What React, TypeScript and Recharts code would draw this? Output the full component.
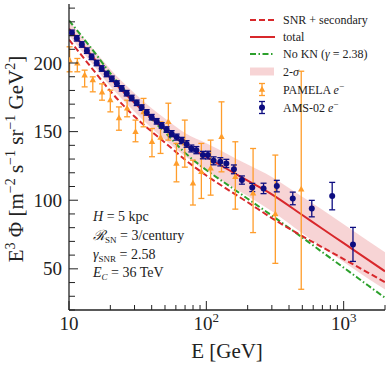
import {
  Area,
  ComposedChart,
  Customized,
  ErrorBar,
  Legend,
  Line,
  Scatter,
  XAxis,
  YAxis,
} from "recharts";

const AXIS = "#222222";
const RED = "#d8282b";
const GREEN = "#2ca02c";
const ORANGE = "#ff9d2b";
const NAVY = "#0d0d80";
const FONT = "'Liberation Serif', 'DejaVu Serif', serif";

// model curves (E in GeV, E^3 flux)
const E_GRID = [10, 15, 20, 30, 40, 50, 70, 100, 150, 200, 300, 500, 700, 1000, 1500, 2000];
const TOTAL = [225, 204, 189, 171, 159.6, 151.6, 140.5, 131.5, 121.3, 114.3, 104.3, 89.2, 79.2, 68.7, 56.7, 48.2];
const SNR_SEC = [217, 195, 179.5, 161, 150, 142, 129.5, 118, 106.5, 98.5, 87, 73.8, 65.7, 57.1, 47.3, 40.3];
const NO_KN = [231, 209, 192.5, 172, 159, 149.5, 134.5, 122, 109.8, 101.1, 88.8, 72.8, 62.1, 50.9, 38, 28.9];
const BAND_LO = [220, 198.5, 183, 164.5, 152.5, 144, 132, 121.5, 110.5, 103, 92, 76, 65.5, 55, 43, 35];
const BAND_HI = [230.5, 210, 195.5, 178, 167, 159.5, 149, 141.5, 132.5, 126, 117, 102.5, 93, 82.5, 70.5, 62];

// PAMELA e-
const PAMELA_E = [10.1, 11.5, 13.0, 14.9, 17.4, 20.0, 23.1, 26.5, 30.5, 34.9, 40.2, 46.4, 52.9, 60.6, 69.7, 79.9, 92.0, 107.5, 129, 162.6, 219, 318, 491];
const PAMELA_V = [202, 199.8, 191.1, 187.5, 178.7, 173, 159.8, 167, 149.8, 164.2, 142.6, 145.6, 157.1, 126.8, 141.4, 112.3, 120.7, 123.2, 146.2, 117.1, 105, 89.9, 107.9];
const PAMELA_LO = [193.6, 193.6, 182.6, 179, 172.9, 164.4, 151, 160.8, 142.6, 153.5, 131.7, 134.1, 143.8, 113.4, 124.1, 96.5, 101.3, 103.7, 120.7, 93.5, 76.4, 54, 35.1];
const PAMELA_HI = [211.8, 203.3, 194.8, 189.9, 184.8, 180.2, 168, 172.9, 158.4, 174.2, 152.3, 157.1, 170.7, 141.4, 158.4, 129.2, 141.4, 143.8, 171.7, 142.6, 137.7, 132.9, 194];

// AMS-02 e-
const AMS_E = [10.5, 11.4, 12.4, 13.5, 14.6, 15.9, 17.3, 18.8, 20.5, 22.3, 24.2, 26.3, 28.6, 31.1, 33.8, 36.8, 40, 43.5, 47.3, 51.4, 55.9, 60.8, 66.1, 71.8, 77.8, 84.6, 94.4, 102.7, 113, 126.4, 139.8, 158.8, 181.6, 216, 261, 326, 426, 586, 825, 1169];
const AMS_V = [222, 218, 213.5, 209, 204.5, 200, 196, 192, 188.5, 185, 181.5, 178, 174.5, 171, 167.5, 164, 160.5, 157.5, 154.5, 151.5, 148.5, 146, 143.5, 141, 137.7, 136.5, 132.9, 132.9, 128.7, 128, 126.8, 122.5, 114.7, 109.3, 108.6, 110.3, 101.3, 93.9, 103, 67.8];
const AMS_ERR = [2, 2, 2, 2, 2, 2, 2, 2, 2, 2, 2, 2, 2, 2, 2, 2, 2, 2, 2, 2, 2.2, 2.2, 2.3, 2.4, 2.5, 2.6, 2.7, 2.8, 2.9, 3, 3, 3.2, 3, 3, 3.8, 4.2, 4.6, 6, 10, 12.4];

// axes
const X_TICKS = [10, 20, 30, 40, 50, 60, 70, 80, 90, 100, 200, 300, 400, 500, 600, 700, 800, 900, 1000, 2000];
const X_MAJOR = [10, 100, 1000];
const X_EXP = [1, 2, 3];
const Y_TICKS = [20, 30, 40, 50, 60, 70, 80, 90, 100, 110, 120, 130, 140, 150, 160, 170, 180, 190, 200, 210, 220, 230, 240];
const Y_MAJOR = [50, 100, 150, 200];

const curveRows = E_GRID.map((E, i) => ({
  E,
  total: TOTAL[i],
  snr: SNR_SEC[i],
  nokn: NO_KN[i],
  band: [BAND_LO[i], BAND_HI[i]],
}));

const pamelaRows = PAMELA_E.map((E, i) => ({
  E,
  v: PAMELA_V[i],
  err: [PAMELA_V[i] - PAMELA_LO[i], PAMELA_HI[i] - PAMELA_V[i]],
}));

const amsRows = AMS_E.map((E, i) => ({ E, v: AMS_V[i], err: AMS_ERR[i] }));

type TickProps = { x?: number; y?: number; payload?: { value: number } };

function BottomTick({ x = 0, y = 0, payload }: TickProps) {
  const i = X_MAJOR.indexOf(payload?.value ?? 0);
  return (
    <g>
      <line x1={x} x2={x} y1={y} y2={y - (i >= 0 ? 9 : 5)} stroke={AXIS} strokeWidth={1} />
      {i >= 0 && (
        <text x={x} y={y + 20} textAnchor="middle" fontSize={19} fontFamily={FONT} fill={AXIS}>
          10
          {X_EXP[i] > 1 && (
            <tspan dy={-8} fontSize={13}>
              {X_EXP[i]}
            </tspan>
          )}
        </text>
      )}
    </g>
  );
}

function TopTick({ x = 0, y = 0, payload }: TickProps) {
  const major = X_MAJOR.includes(payload?.value ?? 0);
  return <line x1={x} x2={x} y1={y} y2={y + (major ? 9 : 5)} stroke={AXIS} strokeWidth={1} />;
}

function LeftTick({ x = 0, y = 0, payload }: TickProps) {
  const v = payload?.value ?? 0;
  const major = Y_MAJOR.includes(v);
  return (
    <g>
      <line x1={x} x2={x + (major ? 9 : 6)} y1={y} y2={y} stroke={AXIS} strokeWidth={1} />
      {major && (
        <text x={x - 7} y={y} dy="0.35em" textAnchor="end" fontSize={19} fontFamily={FONT} fill={AXIS}>
          {v}
        </text>
      )}
    </g>
  );
}

function RightTick({ x = 0, y = 0, payload }: TickProps) {
  const major = Y_MAJOR.includes(payload?.value ?? 0);
  return <line x1={x} x2={x - (major ? 9 : 6)} y1={y} y2={y} stroke={AXIS} strokeWidth={1} />;
}

function XLabel({ viewBox }: any) {
  const vb = viewBox ?? { x: 69, y: 310, width: 316 };
  return (
    <text x={vb.x + vb.width / 2} y={vb.y + 48} textAnchor="middle" fontSize={21} fontFamily={FONT} fill={AXIS}>
      E [GeV]
    </text>
  );
}

function YLabel({ viewBox }: any) {
  const vb = viewBox ?? { x: 0, y: 4, height: 306 };
  const cy = vb.y + vb.height / 2 + 2;
  return (
    <text
      transform={`translate(${vb.x + 23},${cy}) rotate(-90)`}
      textAnchor="middle"
      fontSize={21}
      fontFamily={FONT}
      fill={AXIS}
    >
      E<tspan dy={-8} fontSize={14}>3</tspan>
      <tspan dy={8}> Φ [m</tspan>
      <tspan dy={-8} fontSize={14}>−2</tspan>
      <tspan dy={8}> s</tspan>
      <tspan dy={-8} fontSize={14}>−1</tspan>
      <tspan dy={8}> sr</tspan>
      <tspan dy={-8} fontSize={14}>−1</tspan>
      <tspan dy={8}> GeV</tspan>
      <tspan dy={-8} fontSize={14}>2</tspan>
      <tspan dy={8}>]</tspan>
    </text>
  );
}

function Triangle({ cx, cy, fill }: any) {
  if (cx == null || cy == null) return null;
  return <path d={`M${cx},${cy - 3.6} L${cx + 3.2},${cy + 2.2} L${cx - 3.2},${cy + 2.2} Z`} fill={fill} />;
}

function Dot({ cx, cy, fill }: any) {
  if (cx == null || cy == null) return null;
  return <circle cx={cx} cy={cy} r={3} fill={fill} />;
}

function LegendBox() {
  const hx = 5;
  const tx = 38;
  const rows = [10, 27, 44, 61.5, 79.5, 97.5];
  const txt = { fontSize: 12, fontFamily: FONT, fill: AXIS } as const;
  return (
    <svg width={145} height={110} style={{ display: "block" }}>
      <line x1={hx} x2={hx + 25} y1={rows[0]} y2={rows[0]} stroke={RED} strokeWidth={2} strokeDasharray="6 3" />
      <text x={tx} y={rows[0] + 4} {...txt}>SNR + secondary</text>
      <line x1={hx} x2={hx + 25} y1={rows[1]} y2={rows[1]} stroke={RED} strokeWidth={2} />
      <text x={tx} y={rows[1] + 4} {...txt}>total</text>
      <line x1={hx} x2={hx + 25} y1={rows[2]} y2={rows[2]} stroke={GREEN} strokeWidth={2} strokeDasharray="6 2.5 1.5 2.5" />
      <text x={tx} y={rows[2] + 4} {...txt}>
        No KN (<tspan fontStyle="italic">γ</tspan> = 2.38)
      </text>
      <rect x={hx} y={rows[3] - 4} width={24} height={8} fill={RED} fillOpacity={0.2} />
      <text x={tx} y={rows[3] + 4} {...txt}>
        2-<tspan fontStyle="italic">σ</tspan>
      </text>
      <line x1={hx + 12} x2={hx + 12} y1={rows[4] - 6} y2={rows[4] + 6} stroke={ORANGE} strokeWidth={1.3} />
      <line x1={hx + 9} x2={hx + 15} y1={rows[4] - 6} y2={rows[4] - 6} stroke={ORANGE} strokeWidth={1.3} />
      <line x1={hx + 9} x2={hx + 15} y1={rows[4] + 6} y2={rows[4] + 6} stroke={ORANGE} strokeWidth={1.3} />
      <Triangle cx={hx + 12} cy={rows[4]} fill={ORANGE} />
      <text x={tx} y={rows[4] + 4} {...txt}>
        PAMELA <tspan fontStyle="italic">e</tspan>
        <tspan dy={-5} fontSize={9}>−</tspan>
      </text>
      <line x1={hx + 12} x2={hx + 12} y1={rows[5] - 6} y2={rows[5] + 6} stroke={NAVY} strokeWidth={1.3} />
      <line x1={hx + 9} x2={hx + 15} y1={rows[5] - 6} y2={rows[5] - 6} stroke={NAVY} strokeWidth={1.3} />
      <line x1={hx + 9} x2={hx + 15} y1={rows[5] + 6} y2={rows[5] + 6} stroke={NAVY} strokeWidth={1.3} />
      <Dot cx={hx + 12} cy={rows[5]} fill={NAVY} />
      <text x={tx} y={rows[5] + 4} {...txt}>
        AMS-02 <tspan fontStyle="italic">e</tspan>
        <tspan dy={-5} fontSize={9}>−</tspan>
      </text>
    </svg>
  );
}

function ParamText() {
  const x = 93;
  const base = [221, 240, 259, 277];
  const txt = { fontSize: 14, fontFamily: FONT, fill: AXIS } as const;
  return (
    <g>
      <text x={x} y={base[0]} {...txt}>
        <tspan fontStyle="italic">H</tspan> = 5 kpc
      </text>
      <text x={x} y={base[1]} {...txt}>
        <tspan fontStyle="italic">ℛ</tspan>
        <tspan dy={3} fontSize={9}>SN</tspan>
        <tspan dy={-3}> = 3/century</tspan>
      </text>
      <text x={x} y={base[2]} {...txt}>
        <tspan fontStyle="italic">γ</tspan>
        <tspan dy={3} fontSize={9}>SNR</tspan>
        <tspan dy={-3}> = 2.58</tspan>
      </text>
      <text x={x} y={base[3]} {...txt}>
        <tspan fontStyle="italic">E</tspan>
        <tspan dy={3} fontSize={9} fontStyle="italic">C</tspan>
        <tspan dy={-3}> = 36 TeV</tspan>
      </text>
    </g>
  );
}

export default function App() {
  return (
    <div style={{ position: "absolute", left: 0, top: 0, width: 390, height: 369, background: "#fff" }}>
      <ComposedChart width={390} height={369} data={curveRows} margin={{ top: 4, right: 5, bottom: 0, left: 0 }}>
        <XAxis
          dataKey="E"
          type="number"
          scale="log"
          domain={[10, 2000]}
          allowDataOverflow
          ticks={X_TICKS}
          interval={0}
          height={59}
          tickSize={0}
          tickMargin={0}
          tickLine={false}
          axisLine={{ stroke: AXIS, strokeWidth: 1.3 }}
          tick={(p: any) => <BottomTick {...p} />}
          label={{ content: XLabel }}
        />
        <XAxis
          xAxisId="top"
          orientation="top"
          dataKey="E"
          type="number"
          scale="log"
          domain={[10, 2000]}
          allowDataOverflow
          ticks={X_TICKS}
          interval={0}
          height={0}
          tickSize={0}
          tickMargin={0}
          tickLine={false}
          axisLine={{ stroke: AXIS, strokeWidth: 1.3 }}
          tick={(p: any) => <TopTick {...p} />}
        />
        <YAxis
          type="number"
          domain={[20, 243]}
          allowDataOverflow
          ticks={Y_TICKS}
          interval={0}
          width={69}
          tickSize={0}
          tickMargin={0}
          tickLine={false}
          axisLine={{ stroke: AXIS, strokeWidth: 1.3 }}
          tick={(p: any) => <LeftTick {...p} />}
          label={{ content: YLabel }}
        />
        <YAxis
          yAxisId="right"
          orientation="right"
          type="number"
          domain={[20, 243]}
          allowDataOverflow
          ticks={Y_TICKS}
          interval={0}
          width={0}
          tickSize={0}
          tickMargin={0}
          tickLine={false}
          axisLine={{ stroke: AXIS, strokeWidth: 1.3 }}
          tick={(p: any) => <RightTick {...p} />}
        />
        <Area
          dataKey="band"
          type="monotone"
          stroke="none"
          fill={RED}
          fillOpacity={0.2}
          isAnimationActive={false}
          activeDot={false}
        />
        <Line
          dataKey="nokn"
          type="monotone"
          stroke={GREEN}
          strokeWidth={2}
          strokeDasharray="6 2.5 1.5 2.5"
          dot={false}
          activeDot={false}
          isAnimationActive={false}
        />
        <Line
          dataKey="snr"
          type="monotone"
          stroke={RED}
          strokeWidth={2}
          strokeDasharray="6 3"
          dot={false}
          activeDot={false}
          isAnimationActive={false}
        />
        <Line
          dataKey="total"
          type="monotone"
          stroke={RED}
          strokeWidth={2}
          dot={false}
          activeDot={false}
          isAnimationActive={false}
        />
        <Scatter data={pamelaRows} dataKey="v" fill={ORANGE} shape={Triangle} isAnimationActive={false}>
          <ErrorBar dataKey="err" direction="y" width={3} stroke={ORANGE} strokeWidth={1.3} isAnimationActive={false} />
        </Scatter>
        <Scatter data={amsRows} dataKey="v" fill={NAVY} shape={Dot} isAnimationActive={false}>
          <ErrorBar dataKey="err" direction="y" width={3} stroke={NAVY} strokeWidth={1.3} isAnimationActive={false} />
        </Scatter>
        <Customized component={ParamText} />
        <Legend
          layout="vertical"
          align="center"
          verticalAlign="middle"
          wrapperStyle={{ left: 245, top: 10, width: 145, height: 110 }}
          content={() => <LegendBox />}
        />
      </ComposedChart>
    </div>
  );
}
